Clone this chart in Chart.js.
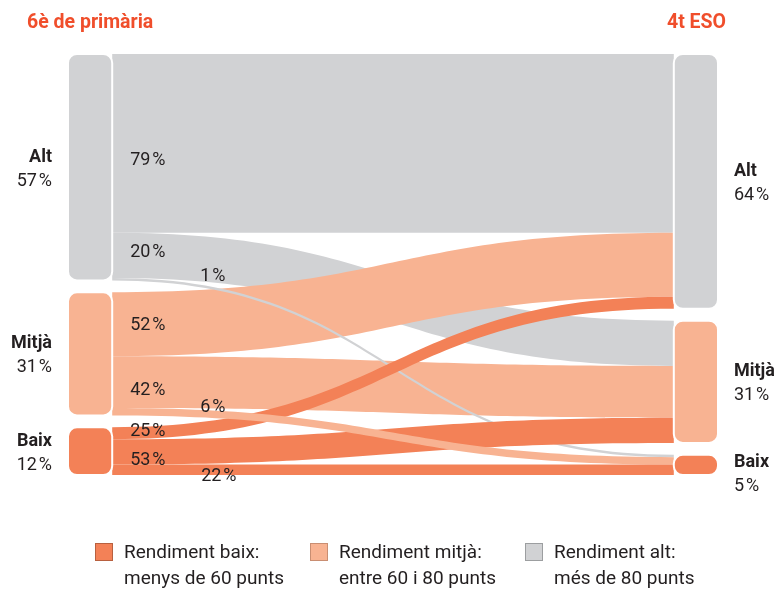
<!DOCTYPE html>
<html>
<head>
<meta charset="utf-8">
<script src="https://cdn.jsdelivr.net/npm/chart.js@4.4.1/dist/chart.umd.min.js"></script>
<style>
  body { margin: 0; background: #fff; }
  canvas { display: block; }
</style>
</head>
<body>
<canvas id="sankey" width="774" height="589"></canvas>
<script>
// nivells de rendiment
const levels = ['Alt', 'Mitjà', 'Baix'];
const share6e = [57, 31, 12];
const share4t = [64, 31, 5];
// % de cada grup de 6è que va a Alt, Mitjà, Baix a 4t ESO
const fromAlt = [79, 20, 1];
const fromMitja = [52, 42, 6];
const fromBaix = [25, 53, 22];
const titles = ['6è de primària', '4t ESO'];
const legendLine1 = ['Rendiment baix:', 'Rendiment mitjà:', 'Rendiment alt:'];
const legendLine2 = ['menys de 60 punts', 'entre 60 i 80 punts', 'més de 80 punts'];

const colors = ['#D1D2D4', '#F8B392', '#F38157'];     // Alt, Mitjà, Baix
const legendColors = ['#F38157', '#F8B392', '#D1D2D4'];
const legendBorders = ['#B8603F', '#C98E72', '#9C9EA0'];
const titleColor = '#F04E2B';
const textColor = '#231F20';

const gap = 3;        // espai entre nodes (unitats de l'eix y)
const nodeW = 6.8;    // amplada dels nodes (unitats de l'eix x)
// ordre de dibuix dels fluxos [origen, destí]
const drawOrder = [[0,0],[0,1],[1,0],[1,1],[0,2],[2,0],[2,1],[1,2],[2,2]];
// desplaçament de les etiquetes dels fluxos (px)
const labelOffsets = [
  [[18, 17], [18, -3], [88, -3]],
  [[18, 1], [18, 8], [88, -4]],
  [[18, -2], [18, 9], [89, 7]]
];

const pcts = [fromAlt, fromMitja, fromBaix];
const flows = pcts.map((row, i) => row.map(p => share6e[i] * p / 100));
const pct = v => v + '\u200A%';

function roundRect(ctx, x, y, w, h, r) {
  r = Math.min(r, w / 2, h / 2);
  ctx.beginPath();
  ctx.moveTo(x + r, y);
  ctx.arcTo(x + w, y, x + w, y + h, r);
  ctx.arcTo(x + w, y + h, x, y + h, r);
  ctx.arcTo(x, y + h, x, y, r);
  ctx.arcTo(x, y, x + w, y, r);
  ctx.closePath();
}

const sankeyPlugin = {
  id: 'sankey',
  afterDatasetsDraw(chart) {
    const { ctx, scales: { x, y } } = chart;

    // posicions dels nodes
    const leftTop = [], rightTop = [], rightSize = [];
    let acc = 0;
    share6e.forEach((v, i) => { leftTop.push(acc); acc += v + gap; });
    acc = 0;
    levels.forEach((l, j) => {
      const s = flows.reduce((a, row) => a + row[j], 0);
      rightSize.push(s);
      rightTop.push(acc);
      acc += s + gap;
    });

    // posicions dels fluxos
    const outStart = flows.map((row, i) => {
      let o = leftTop[i];
      return row.map(f => { const s = o; o += f; return s; });
    });
    const inStart = flows.map(row => row.map(() => 0));
    levels.forEach((l, j) => {
      let o = rightTop[j];
      flows.forEach((row, i) => { inStart[i][j] = o; o += row[j]; });
    });

    const x0 = x.getPixelForValue(nodeW);
    const x1 = x.getPixelForValue(100 - nodeW);
    const xm = (x0 + x1) / 2;

    ctx.save();
    drawOrder.forEach(([i, j]) => {
      const f = flows[i][j];
      const a0 = y.getPixelForValue(outStart[i][j]);
      const a1 = y.getPixelForValue(outStart[i][j] + f);
      const b0 = y.getPixelForValue(inStart[i][j]);
      const b1 = y.getPixelForValue(inStart[i][j] + f);
      ctx.beginPath();
      ctx.moveTo(x0, a0);
      ctx.bezierCurveTo(xm, a0, xm, b0, x1, b0);
      ctx.lineTo(x1, b1);
      ctx.bezierCurveTo(xm, b1, xm, a1, x0, a1);
      ctx.closePath();
      ctx.fillStyle = colors[i];
      ctx.fill();
    });

    // nodes
    const nx0 = x.getPixelForValue(0), nx1 = x.getPixelForValue(100);
    const wPx = x0 - nx0;
    ctx.lineWidth = 2;
    ctx.strokeStyle = '#fff';
    share6e.forEach((v, i) => {
      const t = y.getPixelForValue(leftTop[i]), b = y.getPixelForValue(leftTop[i] + v);
      roundRect(ctx, nx0, t, wPx, b - t, 9);
      ctx.fillStyle = colors[i];
      ctx.fill();
      ctx.stroke();
    });
    rightSize.forEach((v, j) => {
      const t = y.getPixelForValue(rightTop[j]), b = y.getPixelForValue(rightTop[j] + v);
      roundRect(ctx, x1, t, nx1 - x1, b - t, 9);
      ctx.fillStyle = colors[j];
      ctx.fill();
      ctx.stroke();
    });

    // etiquetes dels nodes
    ctx.fillStyle = textColor;
    ctx.textBaseline = 'middle';
    const nodeLabel = (name, val, tx, cy, h, align) => {
      const shift = h < 30 ? 8 : 0;
      ctx.textAlign = align;
      ctx.font = 'bold 18px Roboto';
      ctx.fillText(name, tx, cy - 10 + shift);
      ctx.font = '18px Roboto';
      ctx.fillText(pct(val), tx, cy + 14 + shift);
    };
    share6e.forEach((v, i) => {
      const t = y.getPixelForValue(leftTop[i]), b = y.getPixelForValue(leftTop[i] + v);
      nodeLabel(levels[i], v, nx0 - 16, (t + b) / 2, b - t, 'right');
    });
    rightSize.forEach((v, j) => {
      const t = y.getPixelForValue(rightTop[j]), b = y.getPixelForValue(rightTop[j] + v);
      nodeLabel(levels[j], share4t[j], nx1 + 16, (t + b) / 2, b - t, 'left');
    });

    // etiquetes dels fluxos
    ctx.textAlign = 'left';
    ctx.font = '18px Roboto';
    pcts.forEach((row, i) => row.forEach((p, j) => {
      const c = y.getPixelForValue(outStart[i][j] + flows[i][j] / 2);
      const [dx, dy] = labelOffsets[i][j];
      ctx.fillText(pct(p), x0 + dx, c + dy);
    }));

    // títols
    ctx.fillStyle = titleColor;
    ctx.font = 'bold 19.5px Roboto';
    ctx.textAlign = 'left';
    ctx.fillText(titles[0], 27, 23);
    ctx.textAlign = 'right';
    ctx.fillText(titles[1], 726, 23);

    // llegenda
    const lx = [95, 310, 525];
    ctx.textAlign = 'left';
    ctx.font = '19px Roboto';
    legendLine1.forEach((t, k) => {
      ctx.fillStyle = legendColors[k];
      ctx.fillRect(lx[k] + 0.5, 543.5, 17, 17);
      ctx.lineWidth = 1;
      ctx.strokeStyle = legendBorders[k];
      ctx.strokeRect(lx[k] + 0.5, 543.5, 17, 17);
      ctx.fillStyle = textColor;
      ctx.fillText(t, lx[k] + 29, 553);
      ctx.fillText(legendLine2[k], lx[k] + 29, 579);
    });
    ctx.restore();
  }
};

new Chart(document.getElementById('sankey'), {
  type: 'scatter',
  data: { datasets: [{ data: [], pointRadius: 0 }] },
  options: {
    responsive: false,
    animation: false,
    layout: { padding: { left: 68, right: 56, top: 54, bottom: 114 } },
    scales: {
      x: { type: 'linear', min: 0, max: 100, display: false },
      y: { type: 'linear', min: 0, max: 100 + 2 * gap, reverse: true, display: false }
    },
    plugins: { legend: { display: false }, tooltip: { enabled: false } }
  },
  plugins: [sankeyPlugin]
});
</script>
</body>
</html>
